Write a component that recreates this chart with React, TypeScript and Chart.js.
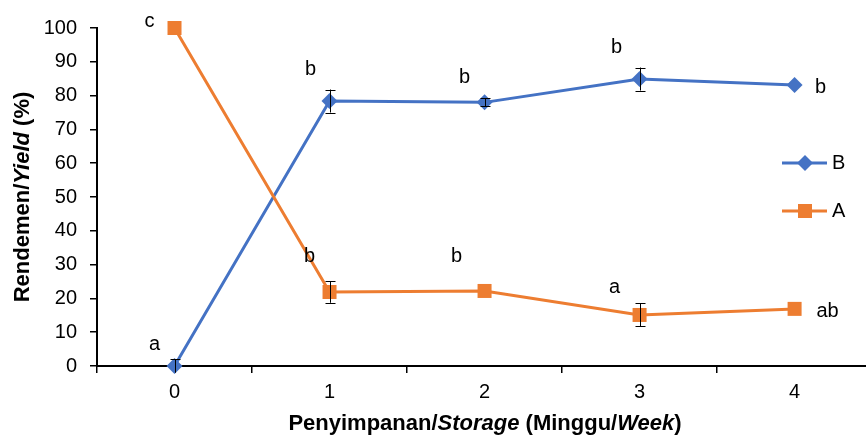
import React, { useEffect, useRef } from "react";
import { Chart, registerables } from "chart.js";

Chart.register(...registerables);

const weeks = ["0", "1", "2", "3", "4"];
const seriesB = [0, 78.4, 78.0, 84.9, 83.1];
const seriesA = [100, 21.9, 22.2, 15.1, 16.9];
const errB = [2.0, 3.4, 1.2, 3.4, 0];
const errA = [0, 3.2, 0, 3.4, 0];
const lettersB = ["a", "b", "b", "b", "b"];
const lettersA = ["c", "b", "b", "a", "ab"];
const yTicks = [0, 10, 20, 30, 40, 50, 60, 70, 80, 90, 100];

// pixel offsets of letter labels relative to their point (layout only)
const offB: [number, number][] = [[-20, -22], [-19, -32], [-20, -25], [-23, -32], [26, 2]];
const offA: [number, number][] = [[-25, -7], [-20, -35], [-28, -34], [-25, -27], [33, 3]];

const FONT = "'Liberation Sans', Arial, sans-serif";
const BLUE = "#4472C4";
const ORANGE = "#ED7D31";

function drawMixed(ctx: CanvasRenderingContext2D, parts: [string, boolean][], size: number) {
  let total = 0;
  const widths: number[] = [];
  for (const [t, it] of parts) {
    ctx.font = `${it ? "italic " : ""}bold ${size}px ${FONT}`;
    const w = ctx.measureText(t).width;
    widths.push(w);
    total += w;
  }
  let x = -total / 2;
  parts.forEach(([t, it], i) => {
    ctx.font = `${it ? "italic " : ""}bold ${size}px ${FONT}`;
    ctx.fillText(t, x, 0);
    x += widths[i];
  });
}

const customPlugin = {
  id: "custom",
  afterDatasetsDraw(chart: any) {
    const ctx = chart.ctx;
    const xs = chart.scales.x;
    const ys = chart.scales.y;
    ctx.save();
    ctx.strokeStyle = "#000";
    ctx.lineWidth = 1;
    const drawErr = (vals: number[], errs: number[]) => {
      vals.forEach((v, i) => {
        if (!errs[i]) return;
        const x = Math.round(xs.getPixelForValue(i)) + 0.5;
        const y1 = ys.getPixelForValue(v + errs[i]);
        const y2 = ys.getPixelForValue(v - errs[i]);
        ctx.beginPath();
        ctx.moveTo(x, y1);
        ctx.lineTo(x, y2);
        ctx.moveTo(x - 5, Math.round(y1) + 0.5);
        ctx.lineTo(x + 5, Math.round(y1) + 0.5);
        if (v - errs[i] >= 0) {
          ctx.moveTo(x - 5, Math.round(y2) + 0.5);
          ctx.lineTo(x + 5, Math.round(y2) + 0.5);
        }
        ctx.stroke();
      });
    };
    drawErr(seriesB, errB);
    drawErr(seriesA, errA);
    ctx.restore();
  },
  afterDraw(chart: any) {
    const ctx = chart.ctx;
    const xs = chart.scales.x;
    const ys = chart.scales.y;
    ctx.save();
    ctx.fillStyle = "#000";
    ctx.textAlign = "center";
    ctx.textBaseline = "middle";
    ctx.font = `20px ${FONT}`;
    const drawLetters = (vals: number[], letters: string[], offs: [number, number][]) => {
      vals.forEach((v, i) => {
        const x = xs.getPixelForValue(i) + offs[i][0];
        const y = ys.getPixelForValue(v) + offs[i][1];
        ctx.fillText(letters[i], x, y);
      });
    };
    drawLetters(seriesB, lettersB, offB);
    drawLetters(seriesA, lettersA, offA);

    // legend
    const legend = [
      { label: "B", color: BLUE, style: "rectRot", y: 163 },
      { label: "A", color: ORANGE, style: "rect", y: 211 },
    ];
    legend.forEach((l) => {
      ctx.strokeStyle = l.color;
      ctx.lineWidth = 3;
      ctx.beginPath();
      ctx.moveTo(782, l.y);
      ctx.lineTo(827, l.y);
      ctx.stroke();
      ctx.fillStyle = l.color;
      if (l.style === "rect") {
        ctx.fillRect(805 - 7, l.y - 7, 14, 14);
      } else {
        ctx.beginPath();
        ctx.moveTo(805, l.y - 8);
        ctx.lineTo(813, l.y);
        ctx.lineTo(805, l.y + 8);
        ctx.lineTo(797, l.y);
        ctx.closePath();
        ctx.fill();
      }
      ctx.fillStyle = "#000";
      ctx.textAlign = "left";
      ctx.font = `20px ${FONT}`;
      ctx.fillText(l.label, 832, l.y);
    });

    // axis titles
    ctx.textAlign = "left";
    ctx.textBaseline = "middle";
    ctx.save();
    ctx.translate(485, 424);
    drawMixed(ctx, [["Penyimpanan/", false], ["Storage", true], [" (Minggu/", false], ["Week", true], [")", false]], 22);
    ctx.restore();
    ctx.save();
    ctx.translate(23, 197);
    ctx.rotate(-Math.PI / 2);
    drawMixed(ctx, [["Rendemen/", false], ["Yield", true], [" (%)", false]], 22);
    ctx.restore();
    ctx.restore();
  },
};

export default function App() {
  const ref = useRef<HTMLCanvasElement | null>(null);
  useEffect(() => {
    document.body.style.margin = "0";
    const canvas = ref.current!;
    const chart = new Chart(canvas, {
      type: "line",
      data: {
        labels: weeks,
        datasets: [
          {
            label: "B",
            data: seriesB,
            borderColor: BLUE,
            backgroundColor: BLUE,
            borderWidth: 3,
            pointStyle: "rectRot",
            pointRadius: 8,
            pointBorderWidth: 0,
            pointBackgroundColor: BLUE,
            tension: 0,
            clip: false as any,
            order: 1,
          },
          {
            label: "A",
            data: seriesA,
            borderColor: ORANGE,
            backgroundColor: ORANGE,
            borderWidth: 3,
            pointStyle: "rect",
            pointRadius: 9.9,
            pointBorderWidth: 0,
            pointBackgroundColor: ORANGE,
            tension: 0,
            clip: false as any,
            order: 0,
          },
        ],
      },
      options: {
        responsive: false,
        animation: false,
        layout: { padding: { top: 28, right: 4, left: 0, bottom: 0 } },
        plugins: { legend: { display: false }, tooltip: { enabled: false } },
        scales: {
          x: {
            type: "category",
            offset: true,
            grid: { offset: true, drawOnChartArea: false, drawTicks: true, tickLength: 7, color: "#000", lineWidth: 1.5 },
            border: { display: true, color: "#000", width: 2 },
            ticks: { color: "#000", font: { family: FONT, size: 20 }, padding: 7, maxRotation: 0 },
            afterFit: (s: any) => { s.height = 69; },
          },
          y: {
            min: 0,
            max: 100,
            afterBuildTicks: (s: any) => { s.ticks = yTicks.map((v) => ({ value: v })); },
            grid: { drawOnChartArea: false, drawTicks: true, tickLength: 7, color: "#000", lineWidth: 1.5 },
            border: { display: true, color: "#000", width: 2 },
            ticks: { color: "#000", font: { family: FONT, size: 20 }, padding: 13 },
            afterFit: (s: any) => { s.width = 97; },
          },
        },
      },
      plugins: [customPlugin],
    });
    return () => chart.destroy();
  }, []);
  return (
    <div style={{ width: 866, height: 435, overflow: "hidden", position: "relative" }}>
      <canvas ref={ref} width={882} height={435} style={{ display: "block" }} />
    </div>
  );
}
